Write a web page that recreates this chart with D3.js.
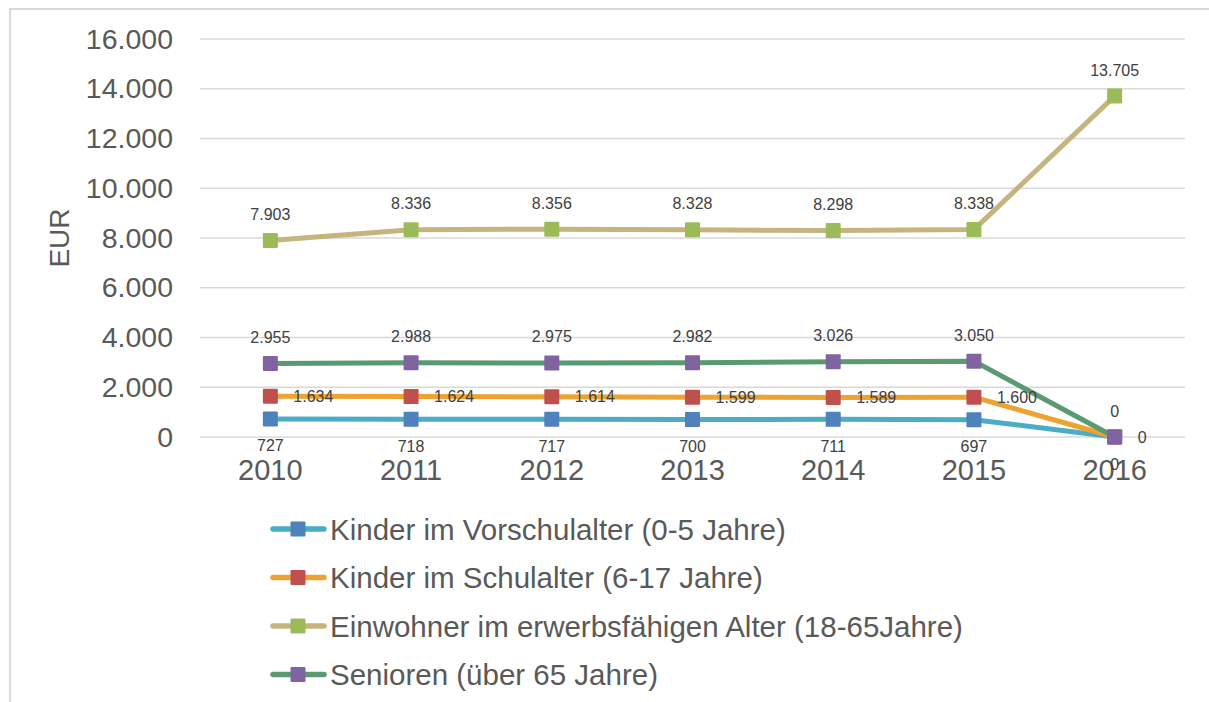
<!DOCTYPE html>
<html>
<head>
<meta charset="utf-8">
<script src="https://cdn.jsdelivr.net/npm/d3@7/dist/d3.min.js"></script>
<style>
  html, body { margin: 0; padding: 0; background: #ffffff; }
  svg { display: block; font-family: "Liberation Sans", Arial, sans-serif; }
</style>
</head>
<body>
<svg id="chart" width="1209" height="702"></svg>
<script>
// Years on the category axis
const years = ["2010", "2011", "2012", "2013", "2014", "2015", "2016"];

// Values per age group (EUR)
const vorschulalter = [727, 718, 717, 700, 711, 697, 0];
const schulalter = [1634, 1624, 1614, 1599, 1589, 1600, 0];
const erwerbsalter = [7903, 8336, 8356, 8328, 8298, 8338, 13705];
const senioren = [2955, 2988, 2975, 2982, 3026, 3050, 0];

const seriesNames = [
  "Kinder im Vorschulalter (0-5 Jahre)",
  "Kinder im Schulalter (6-17 Jahre)",
  "Einwohner im erwerbsfähigen Alter (18-65Jahre)",
  "Senioren (über 65 Jahre)"
];

const yTicks = [0, 2000, 4000, 6000, 8000, 10000, 12000, 14000, 16000];
const yTitle = "EUR";

const series = [
  { name: seriesNames[0], values: vorschulalter, line: "#4bacc6", marker: "#4f81bd", labelPos: "below" },
  { name: seriesNames[1], values: schulalter,    line: "#eea330", marker: "#c0504d", labelPos: "right" },
  { name: seriesNames[2], values: erwerbsalter,  line: "#c6b47e", marker: "#9bbb59", labelPos: "above" },
  { name: seriesNames[3], values: senioren,      line: "#5a9a73", marker: "#8064a2", labelPos: "above" }
];

const svg = d3.select("#chart");
const fmt = d3.formatLocale({ decimal: ",", thousands: ".", grouping: [3], currency: ["", " €"] }).format(",d");

// Outer frame (top and left edges visible)
svg.append("path")
  .attr("d", "M10,702 L10,9 L1209,9")
  .attr("fill", "none")
  .attr("stroke", "#d9d9d9")
  .attr("stroke-width", 2);

const plot = { left: 200, right: 1185, top: 39, bottom: 437 };

const x = d3.scaleBand().domain(years).range([plot.left, plot.right]);
const y = d3.scaleLinear().domain([0, 16000]).range([plot.bottom, plot.top]);
const cx = d => x(d) + x.bandwidth() / 2;

// Horizontal gridlines
svg.append("g")
  .selectAll("line")
  .data(yTicks)
  .join("line")
  .attr("x1", plot.left)
  .attr("x2", plot.right)
  .attr("y1", d => y(d))
  .attr("y2", d => y(d))
  .attr("stroke", "#d9d9d9")
  .attr("stroke-width", 1.4);

// Y axis labels
const yAxis = d3.axisLeft(y).tickValues(yTicks).tickFormat(fmt).tickSize(0).tickPadding(0);
const gy = svg.append("g").attr("transform", "translate(173,0)").call(yAxis);
gy.select(".domain").remove();
gy.selectAll("text")
  .attr("font-size", 28.5)
  .attr("fill", "#595959")
  .attr("font-family", "'Liberation Sans', Arial, sans-serif");

// X axis labels
const xAxis = d3.axisBottom(x).tickSize(0).tickPadding(0);
const gx = svg.append("g").attr("transform", "translate(0,459)").call(xAxis);
gx.select(".domain").remove();
gx.selectAll("text")
  .attr("font-size", 29)
  .attr("fill", "#595959")
  .attr("font-family", "'Liberation Sans', Arial, sans-serif");

// Y axis title
svg.append("text")
  .attr("transform", "translate(59,238) rotate(-90)")
  .attr("text-anchor", "middle")
  .attr("dominant-baseline", "central")
  .attr("font-size", 28)
  .attr("fill", "#595959")
  .text(yTitle);

const line = d3.line().x((d, i) => cx(years[i])).y(d => y(d));
const M = 15;

// Lines and markers per series
series.forEach(s => {
  const g = svg.append("g");
  g.append("path")
    .datum(s.values)
    .attr("d", line)
    .attr("fill", "none")
    .attr("stroke", s.line)
    .attr("stroke-width", 5)
    .attr("stroke-linejoin", "round")
    .attr("stroke-linecap", "round");
  g.selectAll("rect")
    .data(s.values)
    .join("rect")
    .attr("x", (d, i) => cx(years[i]) - M / 2)
    .attr("y", d => y(d) - M / 2)
    .attr("width", M)
    .attr("height", M)
    .attr("rx", 1)
    .attr("fill", s.marker);
});

// Value labels
series.forEach(s => {
  svg.append("g")
    .selectAll("text")
    .data(s.values)
    .join("text")
    .attr("x", (d, i) => s.labelPos === "right" ? cx(years[i]) + 23 : cx(years[i]))
    .attr("y", d => s.labelPos === "above" ? y(d) - 26 : s.labelPos === "below" ? y(d) + 27 : y(d))
    .attr("text-anchor", s.labelPos === "right" ? "start" : "middle")
    .attr("dominant-baseline", "central")
    .attr("font-size", 16)
    .attr("fill", "#404040")
    .text(d => fmt(d));
});

// Legend
const legend = svg.append("g")
  .selectAll("g")
  .data(series)
  .join("g")
  .attr("transform", (d, i) => `translate(0,${529 + i * 48.5})`);
legend.append("line")
  .attr("x1", 273).attr("x2", 324)
  .attr("y1", 0).attr("y2", 0)
  .attr("stroke", d => d.line)
  .attr("stroke-width", 5.5)
  .attr("stroke-linecap", "round");
legend.append("rect")
  .attr("x", 298 - 7.5).attr("y", -7.5)
  .attr("width", 15).attr("height", 15)
  .attr("rx", 1)
  .attr("fill", d => d.marker);
legend.append("text")
  .attr("x", 330)
  .attr("y", 0)
  .attr("dominant-baseline", "central")
  .attr("font-size", 29.5)
  .attr("fill", "#595959")
  .text(d => d.name);
</script>
</body>
</html>
